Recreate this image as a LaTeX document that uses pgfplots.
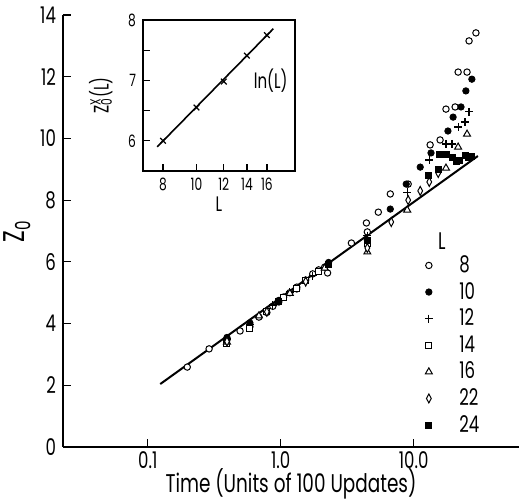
\documentclass[border=0pt]{standalone}
\usepackage{fontspec}
\setmainfont{Poppins}[FakeStretch=0.72]
\usepackage{pgfplots}
\pgfplotsset{compat=1.18}

% main data, one table per L
\pgfplotstableread{
t z
0.198 2.59
0.289 3.18
0.394 3.47
0.494 3.76
0.586 3.90
0.685 4.21
0.786 4.36
0.871 4.56
0.966 4.70
1.05 4.86
1.17 5.00
1.32 5.18
1.54 5.41
1.74 5.61
1.93 5.74
2.14 5.83
2.25 5.64
3.40 6.61
4.41 7.26
4.48 6.97
5.42 7.61
6.67 8.20
9.09 8.52
13.3 9.79
15.8 9.95
17.5 10.95
20.5 11.02
21.6 12.15
25.2 12.15
26.1 13.16
29.4 13.42
}\tA
\pgfplotstableread{
t z
0.394 3.55
0.586 4.02
0.966 4.75
1.32 5.12
2.29 5.98
4.48 6.71
6.67 7.71
8.79 8.52
11.2 9.07
13.5 9.53
18.1 10.24
19.8 10.69
22.7 11.02
24.7 11.54
27.4 11.92
}\tB
\pgfplotstableread{
t z
0.394 3.50
0.586 3.98
0.871 4.60
1.17 5.02
1.74 5.55
4.48 6.85
8.94 8.26
13.1 9.30
17.5 9.82
19.4 9.82
21.6 10.37
24.3 10.53
26.1 10.86
}\tC
\pgfplotstableread{
t z
0.394 3.35
0.586 3.85
0.786 4.40
1.05 4.84
1.32 5.15
1.54 5.38
1.93 5.70
2.29 5.90
4.48 6.60
}\tD
\pgfplotstableread{
t z
0.394 3.40
0.685 4.25
1.17 4.98
2.14 5.80
4.48 6.32
8.94 7.68
17.5 9.04
21.6 9.72
25.2 10.14
}\tE
\pgfplotstableread{
t z
0.394 3.42
0.786 4.38
1.54 5.36
4.48 6.45
6.78 7.29
9.09 8.00
11.2 8.30
13.1 8.59
15.3 8.88
}\tF
\pgfplotstableread{
t z
0.966 4.72
2.29 5.92
4.48 6.68
12.8 8.81
15.3 8.98
15.5 9.49
17.5 9.49
19.4 9.40
20.8 9.27
21.9 9.30
24.3 9.46
25.6 9.40
27.4 9.43
}\tG

\begin{document}
\begin{tikzpicture}
\begin{axis}[
  name=main,
  scale only axis,
  width=228pt, height=216pt,
  xmode=log,
  xmin=0.023, xmax=62,
  ymin=0, ymax=14,
  axis lines*=left,
  axis line style={-, line width=0.6pt},
  xtick={0.1,1,10},
  xticklabels={0.1,1.0,10.0},
  xminorticks=false,
  ytick={0,2,...,14},
  /pgf/number format/assume math mode=true,
  tick style={line width=0.6pt, black},
  major tick length=4pt,
  tick label style={font=\fontsize{11.5}{13}\selectfont},
  x tick label style={yshift=1pt},
  xlabel={Time (Units of 100 Updates)},
  ylabel={Z\textsubscript{0}},
  xlabel style={font=\fontsize{12.8}{15}\selectfont, at={(axis description cs:0.5,0)}, anchor=base, yshift=-22.8pt},
  ylabel style={font=\fontsize{15}{17}\selectfont, yshift=-2pt},
  legend style={draw=none, fill=none, at={(0.783,0.442)}, anchor=north west,
    inner sep=0pt, row sep=4.3pt, font=\fontsize{11.5}{13}\selectfont,
    nodes={inner sep=1pt, text height=7pt, text depth=0pt}},
  legend image code/.code={\path (-4pt,0pt) (14pt,0pt); \draw[#1] plot coordinates {(0pt,0pt)};},
  legend cell align=left,
  clip=false,
]
\addplot[line width=1pt, no marks, forget plot] coordinates {(0.124,2.04) (30.4,9.43)};
\addplot[only marks, mark=*, mark size=1.6pt, mark options={fill=white, line width=0.5pt}] table {\tA};
\addlegendentry{8}
\addplot[only marks, mark=*, mark size=1.6pt, mark options={fill=black}] table {\tB};
\addlegendentry{10}
\addplot[only marks, mark=+, mark size=2pt, mark options={line width=0.6pt}] table {\tC};
\addlegendentry{12}
\addplot[only marks, mark=square*, mark size=1.5pt, mark options={fill=white, line width=0.5pt}] table {\tD};
\addlegendentry{14}
\addplot[only marks, mark=triangle*, mark size=2pt, mark options={fill=white, line width=0.5pt}] table {\tE};
\addlegendentry{16}
\addplot[only marks, mark=diamond*, mark size=1.6pt, mark options={fill=white, line width=0.5pt, yscale=1.4}] table {\tF};
\addlegendentry{22}
\addplot[only marks, mark=square*, mark size=1.5pt, mark options={fill=black}] table {\tG};
\addlegendentry{24}
\node[font=\fontsize{12}{14}\selectfont] at (axis description cs:0.831,0.477) {L};
\end{axis}

\begin{axis}[
  at={(40pt,138pt)}, anchor=south west,
  scale only axis,
  width=76pt, height=75.5pt,
  xmode=log,
  xmin=7, xmax=19.3,
  ymin=5.5, ymax=8,
  axis line style={line width=0.6pt},
  xtick={8,10,12,14,16},
  xticklabels={8,10,12,14,16},
  xminorticks=false,
  xtick pos=bottom,
  ytick={6,7,8},
  minor ytick={6.5,7.5},
  ytick pos=left,
  /pgf/number format/assume math mode=true,
  tick style={line width=0.6pt, black},
  major tick length=3.5pt,
  minor tick length=3.5pt,
  tick label style={font=\fontsize{8.5}{10}\selectfont},
  xlabel={L},
  ylabel={Z\rlap{\textsuperscript{X}}\textsubscript{0}(L)},
  label style={font=\fontsize{10.5}{12}\selectfont},
  xlabel style={yshift=4pt},
  ylabel style={yshift=1pt},
  clip=false,
]
\addplot[line width=0.8pt, no marks] coordinates {(7.7,5.9) (16.7,7.855)};
\addplot[only marks, mark=x, mark size=2pt, mark options={line width=0.6pt}] coordinates {
  (8,6.0) (10,6.55) (12,6.98) (14,7.41) (16,7.75)};
\node[font=\fontsize{10.5}{12}\selectfont] at (axis description cs:0.84,0.6) {ln(L)};
\end{axis}

\pgfresetboundingbox
\path (-31.5pt,-27.5pt) rectangle (229pt,223.5pt);
\end{tikzpicture}
\end{document}
